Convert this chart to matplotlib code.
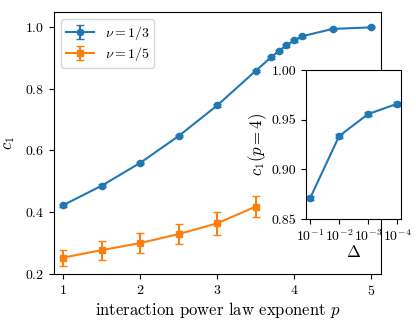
import matplotlib
matplotlib.use('Agg')
import matplotlib.pyplot as plt
import numpy as np

plt.rcParams['font.family'] = 'serif'
plt.rcParams['font.serif'] = ['cmr10']
plt.rcParams['mathtext.fontset'] = 'cm'
plt.rcParams['axes.formatter.use_mathtext'] = True
plt.rcParams['font.size'] = 10

# nu = 1/3
p_13 = [1.0, 1.5, 2.0, 2.5, 3.0, 3.5, 3.7, 3.8, 3.9, 4.0, 4.1, 4.5, 5.0]
c1_13 = [0.423, 0.486, 0.560, 0.647, 0.746, 0.858, 0.902, 0.922, 0.941, 0.957, 0.970, 0.994, 0.999]
err_13 = [0.005, 0.004, 0.004, 0.004, 0.004, 0.004, 0.004, 0.004, 0.004, 0.004, 0.004, 0.003, 0.003]

# nu = 1/5
p_15 = [1.0, 1.5, 2.0, 2.5, 3.0, 3.5]
c1_15 = [0.253, 0.277, 0.300, 0.329, 0.364, 0.418]
err_15 = [0.026, 0.031, 0.033, 0.033, 0.038, 0.034]

# inset: c1(p=4) vs Delta
delta = [1e-1, 1e-2, 1e-3, 1e-4]
c1_p4 = [0.871, 0.9335, 0.9557, 0.966]
err_p4 = [0.002, 0.002, 0.002, 0.002]

fig = plt.figure(figsize=(4.16, 3.23), dpi=100)
ax = fig.add_axes([0.130, 0.152, 0.786, 0.811])
ax.errorbar(p_13, c1_13, yerr=err_13, fmt='o-', color='C0', ms=4.5, capsize=3, label=r'$\nu=1/3$')
ax.errorbar(p_15, c1_15, yerr=err_15, fmt='s-', color='C1', ms=4.5, capsize=3, label=r'$\nu=1/5$')
ax.set_xlim(0.88, 5.13)
ax.set_ylim(0.2, 1.049)
ax.set_xticks([1, 2, 3, 4, 5])
ax.set_yticks([0.2, 0.4, 0.6, 0.8, 1.0])
ax.set_xlabel(r'interaction power law exponent $p$', fontsize=12, labelpad=2)
ax.set_ylabel(r'$c_1$', fontsize=12, labelpad=6)
ax.legend(loc='upper left', labelspacing=0.25, borderpad=0.35)

axin = fig.add_axes([0.736, 0.322, 0.228, 0.461])
axin.errorbar(delta, c1_p4, yerr=err_p4, fmt='o-', color='C0', ms=4.5, capsize=3)
axin.set_xscale('log')
axin.set_xlim(1.37e-1, 1e-4 / 1.37)
axin.set_xticks(delta)
axin.set_xticklabels([r'$10^{-1}$', r'$10^{-2}$', r'$10^{-3}$', r'$10^{-4}$'])
axin.minorticks_off()
axin.set_ylim(0.85, 1.0)
axin.set_yticks([0.85, 0.90, 0.95, 1.00])
axin.set_yticklabels(['0.85', '0.90', '0.95', '1.00'])
axin.set_xlabel(r'$\Delta$', fontsize=12, labelpad=0)
axin.set_ylabel(r'$c_1(p=4)$', fontsize=12, labelpad=2)

fig.savefig('out.png', dpi=100)
